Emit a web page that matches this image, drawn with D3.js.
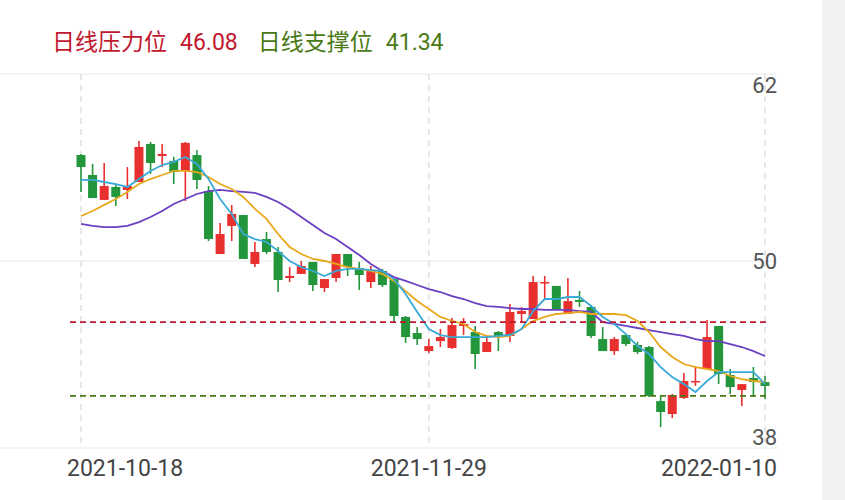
<!DOCTYPE html>
<html><head><meta charset="utf-8">
<script src="https://cdn.jsdelivr.net/npm/d3@7/dist/d3.min.js"></script>
<style>body{margin:0;background:#fff;}svg{display:block;font-family:"Noto Sans CJK SC","Noto Sans",sans-serif;}</style>
</head><body>
<script>
const dateLabels = ["2021-10-18","2021-11-29","2022-01-10"];
const dateIdx = [0,30,59];
const yTicks = [62,50,38];
const resistance = 46.08, support = 41.34;
const opens = [56.80,55.52,53.92,54.75,54.56,55.07,57.51,56.74,56.42,55.78,56.80,54.49,50.45,52.25,52.95,49.81,51.41,50.58,48.91,49.17,49.94,48.27,48.91,50.45,49.55,48.65,49.36,48.84,46.41,45.38,44.22,44.86,44.42,45.83,45.44,44.16,45.44,45.19,46.60,46.28,48.59,48.40,46.60,47.50,47.05,44.99,44.22,45.25,44.61,44.48,41.01,40.18,41.21,42.23,43.07,45.83,42.68,41.72,42.49,42.23];
const highs = [56.87,56.23,56.29,54.94,56.03,57.70,57.64,57.51,56.68,57.64,57.13,54.81,52.44,53.60,52.95,51.22,51.86,50.90,49.61,50.00,49.94,48.84,50.45,50.45,49.94,49.68,49.49,48.97,46.47,45.76,44.99,45.64,46.34,46.34,45.83,45.19,45.51,47.24,47.05,49.04,49.04,48.40,48.91,48.07,47.18,45.76,45.12,45.31,44.80,44.54,41.34,41.46,42.81,43.26,46.21,45.83,43.07,42.10,43.20,42.62];
const lows = [54.43,54.04,53.92,53.53,53.98,55.07,55.59,56.03,54.94,53.85,54.62,51.28,50.45,51.28,50.13,49.61,50.45,48.01,48.65,49.17,48.07,48.01,48.65,49.04,48.14,48.27,48.33,46.02,44.74,44.61,44.10,44.48,44.35,45.25,43.07,44.16,44.22,44.80,46.02,46.28,47.50,46.86,46.60,47.05,45.06,44.22,43.97,44.54,44.03,41.27,39.35,39.92,41.14,41.98,43.07,42.10,41.46,40.69,41.27,41.14];
const closes = [56.03,54.04,54.81,54.11,54.81,57.32,56.29,56.87,55.71,57.58,55.20,51.41,51.73,53.02,50.13,50.58,50.58,48.78,49.04,49.68,48.46,48.84,50.45,49.61,49.10,49.36,48.46,46.47,45.12,44.99,44.54,45.12,45.89,45.96,44.03,44.80,45.19,46.73,46.79,48.65,48.65,46.86,47.43,47.37,45.19,44.22,44.99,44.67,44.16,41.34,40.31,41.40,42.30,42.30,45.12,42.75,41.91,42.10,42.23,41.98];
const ma5 = [55.20,55.20,55.07,54.94,54.75,55.26,55.78,56.16,56.36,56.68,56.23,55.26,53.98,53.02,51.73,51.41,51.22,50.64,50.00,49.61,49.36,49.04,49.36,49.49,49.49,49.42,49.36,48.84,47.88,46.73,45.63,45.25,45.12,45.12,45.12,45.12,45.19,45.25,45.63,46.79,47.56,47.56,47.69,47.69,47.11,46.41,45.96,45.31,44.54,44.03,43.19,42.55,42.10,41.59,42.30,42.87,42.87,42.87,42.87,42.10];
const ma10 = [52.89,53.21,53.60,53.98,54.43,54.94,55.26,55.52,55.78,55.78,55.71,55.39,54.94,54.62,54.11,53.34,52.70,51.73,50.90,50.45,50.13,50.00,49.81,49.61,49.49,49.36,49.17,48.72,48.07,47.43,46.92,46.41,46.15,45.96,45.44,45.19,45.12,45.19,45.63,46.15,46.41,46.60,46.66,46.73,46.60,46.60,46.60,46.53,46.15,45.44,44.48,43.84,43.39,43.19,43.07,42.94,42.62,42.42,42.30,42.23];
const ma20 = [52.38,52.25,52.18,52.18,52.25,52.50,52.82,53.21,53.66,53.98,54.30,54.49,54.56,54.49,54.43,54.37,54.11,53.79,53.34,52.82,52.31,51.80,51.41,50.90,50.39,49.81,49.36,48.97,48.72,48.46,48.20,48.01,47.75,47.56,47.30,47.11,47.05,46.98,46.92,46.92,46.86,46.86,46.86,46.79,46.73,46.08,45.96,45.83,45.70,45.57,45.44,45.31,45.19,44.99,44.86,44.86,44.67,44.48,44.22,43.90];

const W=845,H=500;
const svg=d3.select("body").append("svg").attr("width",W).attr("height",H);
svg.append("rect").attr("x",822).attr("y",0).attr("width",23).attr("height",H).attr("fill","#f2f2f4");
const x=d3.scaleLinear().domain([0,59]).range([81,765]);
const y=d3.scaleLinear().domain([38,62]).range([448,74]);
const L=0,R=777;
yTicks.forEach(t=>svg.append("line").attr("x1",L).attr("x2",R).attr("y1",y(t)).attr("y2",y(t)).attr("stroke","#e8e8e8").attr("stroke-width",1));
dateIdx.forEach(i=>svg.append("line").attr("x1",x(i)).attr("x2",x(i)).attr("y1",y(62)).attr("y2",y(38)).attr("stroke","#e0e0e0").attr("stroke-dasharray","6,5").attr("stroke-width",1.5));
svg.selectAll(".yt").data(yTicks).enter().append("text").attr("x",R).attr("y",(d,i)=>y(d)+(i===0?19:i===2?-3:8)).attr("text-anchor","end").attr("font-size",22).attr("fill","#555").attr("font-family","Roboto, 'Noto Sans', sans-serif").text(d=>d);
const anchors=["start","middle","end"], xoff=[-14,0,12];
svg.selectAll(".xt").data(dateIdx).enter().append("text").attr("x",(d,i)=>x(d)+xoff[i]).attr("y",476).attr("text-anchor",(d,i)=>anchors[i]).attr("font-size",23).attr("fill","#444").attr("font-family","Roboto, 'Noto Sans', sans-serif").text((d,i)=>dateLabels[i]);
const up="#e8302e",dn="#23963b",bw=9;
const idx=d3.range(opens.length);
const g=svg.append("g");
g.selectAll(".w").data(idx).enter().append("line").attr("x1",i=>x(i)).attr("x2",i=>x(i)).attr("y1",i=>y(highs[i])).attr("y2",i=>y(lows[i])).attr("stroke",i=>closes[i]>=opens[i]?up:dn).attr("stroke-width",1.6);
g.selectAll(".b").data(idx).enter().append("rect").attr("x",i=>x(i)-bw/2).attr("width",bw).attr("y",i=>y(Math.max(opens[i],closes[i]))).attr("height",i=>Math.max(1.5,Math.abs(y(opens[i])-y(closes[i])))).attr("fill",i=>closes[i]>=opens[i]?up:dn);
const line=arr=>d3.line().x((d,i)=>x(i)).y(d=>y(d))(arr);
[[ma20,"#6a3fc2"],[ma10,"#e9a81c"],[ma5,"#3aa9d6"]].forEach(([a,c])=>svg.append("path").attr("d",line(a)).attr("fill","none").attr("stroke",c).attr("stroke-width",1.8));
svg.append("line").attr("x1",70).attr("x2",770).attr("y1",y(resistance)).attr("y2",y(resistance)).attr("stroke","#c0182e").attr("stroke-width",1.8).attr("stroke-dasharray","6,4");
svg.append("line").attr("x1",70).attr("x2",770).attr("y1",y(support)).attr("y2",y(support)).attr("stroke","#4a7a16").attr("stroke-width",1.8).attr("stroke-dasharray","6,4");
const t=svg.append("text").attr("x",52).attr("y",50).attr("font-size",23);
t.append("tspan").attr("fill","#c0182e").text("日线压力位");
t.append("tspan").attr("fill","#c0182e").attr("dx",13).attr("font-family","Roboto, 'Noto Sans', sans-serif").text(resistance.toFixed(2));
t.append("tspan").attr("fill","#4a7a16").attr("dx",20).text("日线支撑位");
t.append("tspan").attr("fill","#4a7a16").attr("dx",13).attr("font-family","Roboto, 'Noto Sans', sans-serif").text(support.toFixed(2));
</script>
</body></html>
